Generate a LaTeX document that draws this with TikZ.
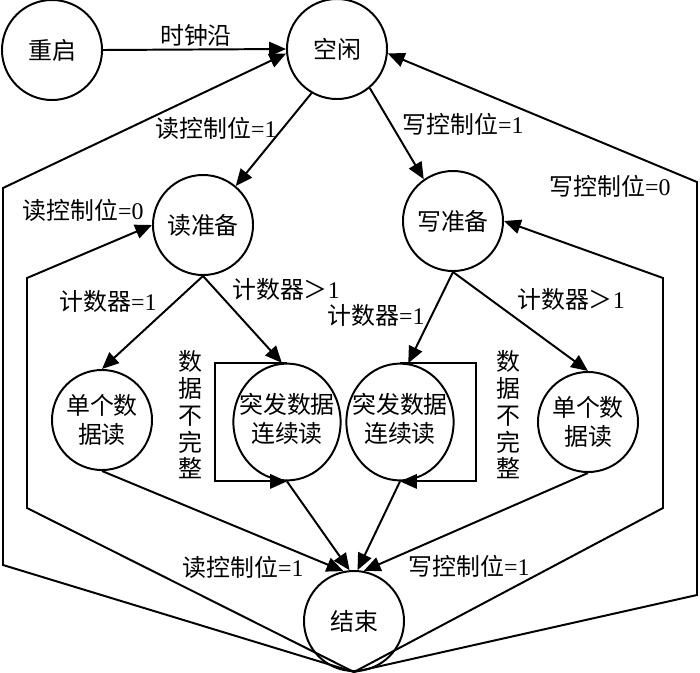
\documentclass[tikz,border=0pt]{standalone}
\usepackage{fontspec}
\setmainfont{Liberation Serif}
\newfontfamily\cjk{Noto Sans CJK SC}
\usetikzlibrary{arrows.meta, shapes.geometric}

\newcommand{\twolines}[2]{\makebox[0pt]{\begin{tabular}{@{}c@{}}#1\\#2\end{tabular}}}

\begin{document}
\begin{tikzpicture}[x=0.025cm, y=-0.025cm, line width=1.4pt,
  >={Triangle[length=0.42cm, width=0.36cm]},
  state/.style={circle, draw, minimum size=2.5cm, inner sep=0pt, align=center, font=\cjk\fontsize{17}{20}\selectfont},
  burst/.style={ellipse, draw, minimum width=2.68cm, minimum height=2.92cm, inner sep=0pt, font=\cjk\fontsize{17}{20}\selectfont},
  lbl/.style={font=\fontsize{17}{20}\selectfont, inner sep=0pt},
  vlbl/.style={font=\cjk\fontsize{17}{19}\selectfont, align=center, inner sep=0pt}]
  \useasboundingbox (0,0) rectangle (700,673);
  % Etats
  \node[state] (cq) at (52,50) {重启};
  \node[state] (kx) at (337,49) {空闲};
  \node[state] (dzb) at (203,225) {读准备};
  \node[state] (xzb) at (453,221) {写准备};
  \node[state] (ddL) at (102,420) {单个数\\据读};
  \node[burst] (tfL) at (287,422) {\twolines{突发数据}{连续读}};
  \node[burst] (tfR) at (400,422) {\twolines{突发数据}{连续读}};
  \node[state] (ddR) at (588,422) {单个数\\据读};
  \node[state] (js) at (354,621) {结束};
  % Transitions vers le bas
  \draw[->] (cq.east) -- (kx.west);
  \draw[->] (kx.240) -- (dzb.50);
  \draw[->] (kx.-50) -- (xzb.125);
  \draw[->] (dzb.south) -- (ddL.north);
  \draw[->] (dzb.south) -- (tfL.95);
  \draw[->] (xzb.south) -- (tfR.82);
  \draw[->] (xzb.south) -- (ddR.north);
  % Boucles : donnees incompletes
  \draw[->] (tfL.north) -- ++(-72,0) |- (tfL.south);
  \draw[->] (tfR.north) -- ++(76,0) |- (tfR.south);
  % Vers fin
  \draw[->] (ddL.south) -- (js.102);
  \draw[->] (tfL.south) -- (js.95);
  \draw[->] (tfR.south) -- (js.86);
  \draw[->] (ddR.south) -- (js.79);
  % Retours
  \draw[->] (js.south) -- (27,508) -- (27,278) -- (dzb.west);
  \draw[->] (js.south) -- (3,565) -- (3,188) -- (kx.185);
  \draw[->] (js.south) -- (663,508) -- (663,278) -- (xzb.east);
  \draw[->] (js.south) -- (697,595) -- (697,182) -- (kx.-5);
  % Etiquettes
  \node[lbl] (lclk) at (196,35) {\cjk 时钟沿};
  \node[lbl] (lrd1) at (216,128) {{\cjk 读控制位}=1};
  \node[lbl] (lwr1) at (463,124) {{\cjk 写控制位}=1};
  \node[lbl] (lrd0) at (83,210) {{\cjk 读控制位}=0};
  \node[lbl] (lwr0) at (610,186) {{\cjk 写控制位}=0};
  \node[lbl] (lcnL1) at (108,301) {{\cjk 计数器}=1};
  \node[lbl] (lcnLg) at (286,289) {{\cjk 计数器＞}1};
  \node[lbl] (lcnR1) at (376,315) {{\cjk 计数器}=1};
  \node[lbl] (lcnRg) at (571,299) {{\cjk 计数器＞}1};
  \node[vlbl] (vL) at (190,415) {数\\据\\不\\完\\整};
  \node[vlbl] (vR) at (508,415) {数\\据\\不\\完\\整};
  \node[lbl] (lrdE) at (243,567) {{\cjk 读控制位}=1};
  \node[lbl] (lwrE) at (469,566) {{\cjk 写控制位}=1};
\end{tikzpicture}
\end{document}
